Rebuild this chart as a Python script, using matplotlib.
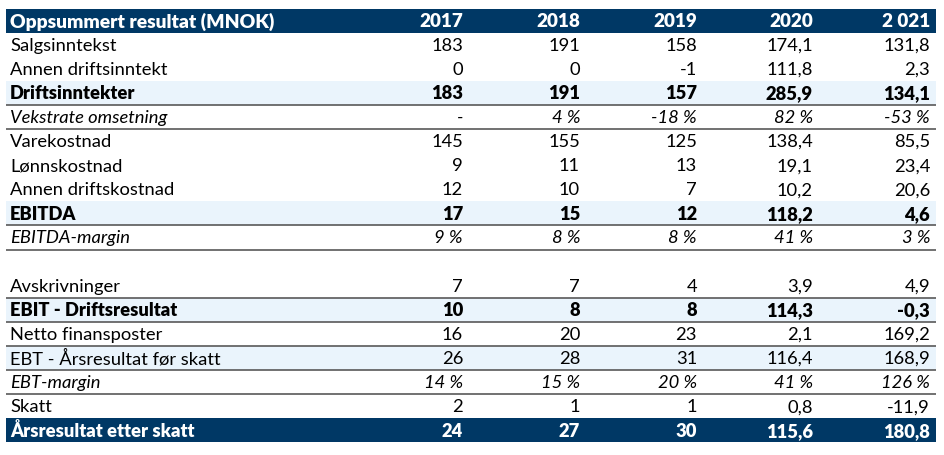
import matplotlib.pyplot as plt

plt.rcParams['font.family'] = ['Lato', 'DejaVu Sans']

header = "Oppsummert resultat (MNOK)"
years = ["2017", "2018", "2019", "2020", "2 021"]
labels = ["Salgsinntekst", "Annen driftsinntekt", "Driftsinntekter",
          "Vekstrate omsetning", "Varekostnad", "Lønnskostnad",
          "Annen driftskostnad", "EBITDA", "EBITDA-margin", "",
          "Avskrivninger", "EBIT - Driftsresultat", "Netto finansposter",
          "EBT - Årsresultat før skatt", "EBT-margin", "Skatt",
          "Årsresultat etter skatt"]
kinds = ["n", "n", "b", "p", "n", "n", "n", "b", "p", "blank",
         "n", "b", "n", "s", "p", "n", "t"]

v2017 = [183, 0, 183, None, 145, 9, 12, 17, 9, None, 7, 10, 16, 26, 14, 2, 24]
v2018 = [191, 0, 191, 4, 155, 11, 10, 15, 8, None, 7, 8, 20, 28, 15, 1, 27]
v2019 = [158, -1, 157, -18, 125, 13, 7, 12, 8, None, 4, 8, 23, 31, 20, 1, 30]
v2020 = [174.1, 111.8, 285.9, 82, 138.4, 19.1, 10.2, 118.2, 41, None,
         3.9, 114.3, 2.1, 116.4, 41, 0.8, 115.6]
v2021 = [131.8, 2.3, 134.1, -53, 85.5, 23.4, 20.6, 4.6, 3, None,
         4.9, -0.3, 169.2, 168.9, 126, -11.9, 180.8]
columns = [v2017, v2018, v2019, v2020, v2021]
decimals = [0, 0, 0, 1, 1]

rule_after = [2, 3, 7, 8, 10, 11, 12, 13, 14]

navy = "#003865"
light = "#EAF4FC"
rule = "#595959"

left, right = 6, 936
top, h = 9.5, 24.1
col_right = [463, 580, 697, 813, 930]
label_x = 10
fs = 13.2
bold = "heavy"

fig = plt.figure(figsize=(9.44, 4.56), dpi=100)
ax = fig.add_axes([0, 0, 1, 1])
ax.set_xlim(0, 944)
ax.set_ylim(456, 0)
ax.axis("off")


def fmt(val, dec, pct):
    if val is None:
        return "-"
    if pct:
        return f"{val:.0f} %"
    s = f"{val:.{dec}f}"
    return s.replace(".", ",")


# header row
yc = top + h / 2
ax.barh(yc, right - left, left=left, height=h, color=navy)
ax.text(label_x, yc, header, color="white", fontsize=13.9, fontweight=bold,
        va="center", ha="left")
for xr, yr in zip(col_right, years):
    ax.text(xr, yc, yr, color="white", fontsize=13.6, fontweight=bold,
            va="center", ha="right")

for i, (lab, kind) in enumerate(zip(labels, kinds)):
    yc = top + (i + 1.5) * h
    color = "black"
    weight = "normal"
    style = "normal"
    if kind in ("b", "s"):
        ax.barh(yc, right - left, left=left, height=h, color=light)
    if kind == "b":
        weight = bold
    if kind == "t":
        ax.barh(yc, right - left, left=left, height=h, color=navy)
        color = "white"
        weight = bold
    if kind == "p":
        style = "italic"
    if kind == "blank":
        continue
    ax.text(label_x, yc, lab, color=color, fontsize=fs, fontweight=weight,
            fontstyle=style, va="center", ha="left")
    for xr, col, dec in zip(col_right, columns, decimals):
        if kind == "p" and col[i] is None:
            txt = "-"
        else:
            txt = fmt(col[i], dec, kind == "p")
        ax.text(xr, yc, txt, color=color, fontsize=fs, fontweight=weight,
                fontstyle=style, va="center", ha="right")

for i in rule_after:
    yb = top + (i + 2) * h
    ax.hlines(yb, left, right, color=rule, linewidth=1.2)

fig.savefig("out.png", dpi=100)
